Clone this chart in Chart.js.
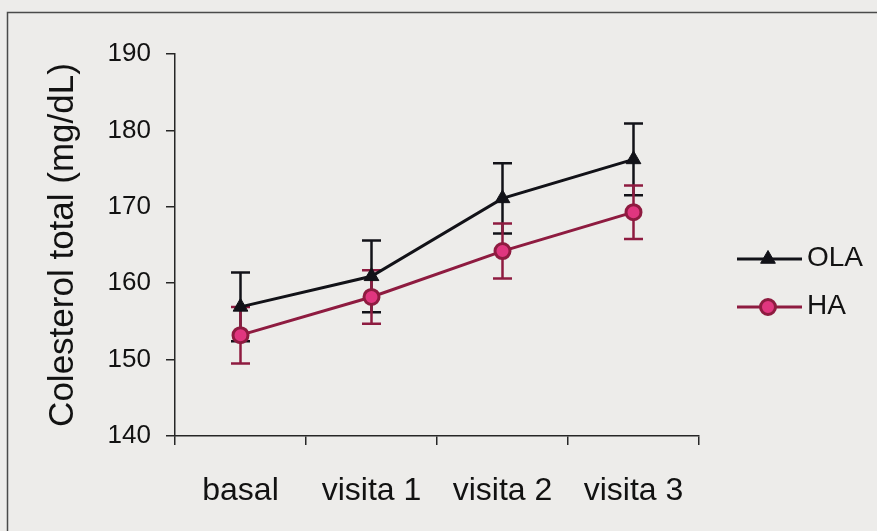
<!DOCTYPE html>
<html>
<head>
<meta charset="utf-8">
<script src="https://cdn.jsdelivr.net/npm/chart.js@4.4.1/dist/chart.umd.min.js"></script>
<style>
  html, body { margin: 0; padding: 0; background: #edecea; }
  #wrap { width: 877px; height: 531px; }
</style>
</head>
<body>
<div id="wrap"><canvas id="c" width="877" height="531"></canvas></div>
<script>
// Visits along the horizontal axis
const visits = ['basal', 'visita 1', 'visita 2', 'visita 3'];

// Total cholesterol (mg/dL), mean and error per visit
const olaMean = [156.9, 160.9, 171.1, 176.2];
const olaErr  = [4.5, 4.7, 4.6, 4.7];
const haMean  = [153.2, 158.2, 164.2, 169.3];
const haErr   = [3.7, 3.5, 3.6, 3.5];

// Vertical axis range and step
const yMin = 140, yMax = 190, yStep = 10;

const FONT = '"Liberation Sans", Arial, Helvetica, sans-serif';
const INK = '#121212';
const AXIS = '#262626';
const OLA_COLOR = '#121218';
const HA_LINE = '#8e1b40';
const HA_FILL = '#e0367f';

// Page backdrop and the frame around the figure
const frame = {
  id: 'frame',
  beforeDraw(chart) {
    const { ctx, width, height } = chart;
    ctx.save();
    ctx.fillStyle = '#edecea';
    ctx.fillRect(0, 0, width, height);
    ctx.strokeStyle = '#4a4a4a';
    ctx.lineWidth = 1.5;
    ctx.beginPath();
    ctx.moveTo(7.5, height + 2);
    ctx.lineTo(7.5, 12.5);
    ctx.lineTo(width + 2, 12.5);
    ctx.stroke();
    ctx.restore();
  }
};

// Vertical error bars with caps, placed through the chart's scales
const errorBars = {
  id: 'errorBars',
  beforeDatasetsDraw(chart) {
    const { ctx, scales: { x, y } } = chart;
    ctx.save();
    chart.data.datasets.forEach((ds) => {
      const errs = ds.errorValues;
      ctx.strokeStyle = ds.errorColor;
      ctx.lineWidth = 2.5;
      ds.data.forEach((v, i) => {
        const px = x.getPixelForValue(i);
        const top = y.getPixelForValue(v + errs[i]);
        const bot = y.getPixelForValue(v - errs[i]);
        const cap = 9.5;
        ctx.beginPath();
        ctx.moveTo(px, top); ctx.lineTo(px, bot);
        ctx.moveTo(px - cap, top); ctx.lineTo(px + cap, top);
        ctx.moveTo(px - cap, bot); ctx.lineTo(px + cap, bot);
        ctx.stroke();
      });
    });
    ctx.restore();
  }
};

// Legend: line sample with the series marker in its middle
const sideLegend = {
  id: 'sideLegend',
  afterDraw(chart) {
    const { ctx } = chart;
    const rows = [
      { ds: chart.data.datasets[0], y: 259 },
      { ds: chart.data.datasets[1], y: 307 }
    ];
    ctx.save();
    rows.forEach(({ ds, y }) => {
      const x0 = 737, x1 = 802, mid = 768;
      ctx.strokeStyle = ds.borderColor;
      ctx.lineWidth = 3;
      ctx.beginPath();
      ctx.moveTo(x0, y); ctx.lineTo(x1, y);
      ctx.stroke();
      ctx.fillStyle = ds.pointBackgroundColor;
      ctx.strokeStyle = ds.pointBorderColor;
      ctx.lineWidth = ds.pointBorderWidth;
      Chart.helpers.drawPoint(ctx, {
        pointStyle: ds.pointStyle,
        radius: ds.pointRadius,
        rotation: 0,
        borderWidth: ds.pointBorderWidth
      }, mid, y);
      ctx.fillStyle = INK;
      ctx.font = '28px ' + FONT;
      ctx.textAlign = 'left';
      ctx.textBaseline = 'middle';
      ctx.fillText(ds.label, 807, y - 1);
    });
    ctx.restore();
  }
};

new Chart(document.getElementById('c'), {
  type: 'line',
  data: {
    labels: visits,
    datasets: [
      {
        label: 'OLA',
        data: olaMean,
        errorValues: olaErr,
        errorColor: OLA_COLOR,
        borderColor: OLA_COLOR,
        borderWidth: 3,
        pointStyle: 'triangle',
        pointRadius: 8.5,
        pointBorderWidth: 1,
        pointBackgroundColor: OLA_COLOR,
        pointBorderColor: OLA_COLOR,
        tension: 0
      },
      {
        label: 'HA',
        data: haMean,
        errorValues: haErr,
        errorColor: HA_LINE,
        borderColor: HA_LINE,
        borderWidth: 3,
        pointStyle: 'circle',
        pointRadius: 7.5,
        pointBorderWidth: 3,
        pointBackgroundColor: HA_FILL,
        pointBorderColor: HA_LINE,
        tension: 0
      }
    ]
  },
  options: {
    responsive: false,
    animation: false,
    layout: { padding: { top: 54, right: 178, left: 0, bottom: 0 } },
    plugins: {
      legend: { display: false },
      tooltip: { enabled: false }
    },
    scales: {
      x: {
        offset: true,
        grid: { offset: true, drawOnChartArea: false, tickLength: 9, color: AXIS, lineWidth: 1.5 },
        border: { color: AXIS, width: 1.5 },
        ticks: { color: INK, font: { family: FONT, size: 32 }, padding: 27, maxRotation: 0 },
        afterFit: (s) => { s.height = 95; }
      },
      y: {
        min: yMin,
        max: yMax,
        grid: { drawOnChartArea: false, tickLength: 9, color: AXIS, lineWidth: 1.5 },
        border: { color: AXIS, width: 1.5 },
        ticks: { stepSize: yStep, color: INK, font: { family: FONT, size: 26 }, padding: 15 },
        title: {
          display: true,
          text: 'Colesterol total (mg/dL)',
          color: INK,
          font: { family: FONT, size: 35 },
          padding: { top: 42, bottom: 0 }
        },
        afterFit: (s) => { s.width = 175; }
      }
    }
  },
  plugins: [frame, errorBars, sideLegend]
});
</script>
</body>
</html>
